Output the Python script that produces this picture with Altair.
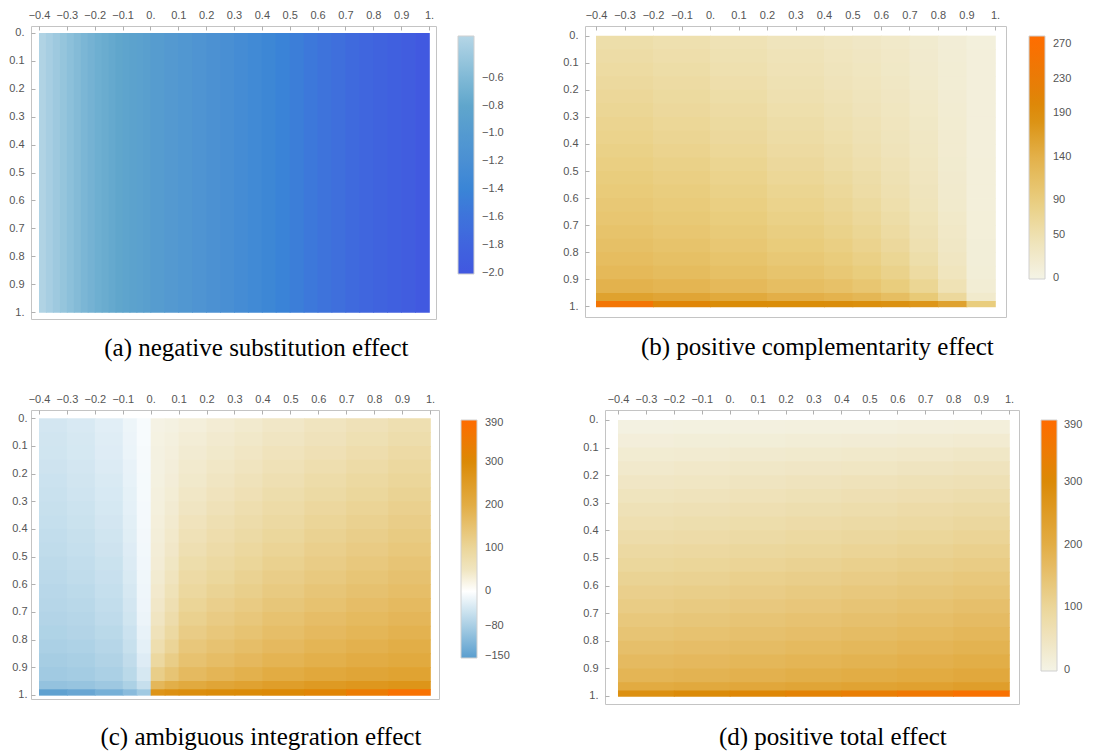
import altair as alt
import pandas as pd

# ---------------- axis ticks ----------------
x_ticks = [-0.4, -0.3, -0.2, -0.1, 0.0, 0.1, 0.2, 0.3, 0.4, 0.5, 0.6, 0.7, 0.8, 0.9, 1.0]
y_ticks = [0.0, 0.1, 0.2, 0.3, 0.4, 0.5, 0.6, 0.7, 0.8, 0.9, 1.0]

# shared row edges for the fine grids (y = 0 at the top)
fine_y_edges = [0.0, 0.05, 0.1, 0.15, 0.2, 0.25, 0.3, 0.35, 0.4, 0.45, 0.5, 0.55, 0.6, 0.65,
                0.7, 0.75, 0.8, 0.85, 0.9, 0.95, 0.98, 1.0]

# ---------------- (a) negative substitution effect ----------------
a_x_edges = [-0.4, -0.375, -0.35, -0.325, -0.3, -0.275, -0.25, -0.225, -0.2, -0.175, -0.15, -0.125,
             -0.1, -0.075, -0.05, -0.025, 0.0, 0.05, 0.1, 0.15, 0.2, 0.25, 0.3, 0.35, 0.4, 0.45,
             0.5, 0.55, 0.6, 0.65, 0.7, 0.75, 0.8, 0.85, 0.9, 0.95, 1.0]
a_y_edges = [0.0, 1.0]
a_values = [[-0.33, -0.38, -0.43, -0.48, -0.53, -0.58, -0.63, -0.67, -0.71, -0.74, -0.77, -0.80,
             -0.83, -0.86, -0.89, -0.92, -0.96, -1.01, -1.06, -1.11, -1.16, -1.21, -1.26, -1.31,
             -1.36, -1.42, -1.48, -1.54, -1.60, -1.66, -1.72, -1.77, -1.82, -1.87, -1.92, -1.97]]
a_color_domain = [-2.01, -1.8, -1.6, -1.4, -1.2, -1.0, -0.8, -0.6, -0.3]
a_color_range = ["#4157e0", "#4064de", "#3e73db", "#3a85d6", "#4a8fd3", "#549ad0", "#60a6cc",
                 "#80b9d6", "#b5d6e6"]
a_legend_values = [-2.0, -1.8, -1.6, -1.4, -1.2, -1.0, -0.8, -0.6]

# ---------------- (b) positive complementarity effect ----------------
b_x_edges = [-0.4, -0.2, 0.0, 0.2, 0.4, 0.5, 0.6, 0.7, 0.8, 0.9, 1.0]
b_y_edges = fine_y_edges
b_values = [
    [55, 51, 45, 39, 34, 30, 26, 21, 14, 8],
    [58, 54, 48, 42, 37, 33, 28, 22, 15, 9],
    [61, 57, 51, 44, 39, 35, 29, 23, 16, 9],
    [64, 60, 54, 47, 41, 37, 31, 24, 16, 9],
    [68, 63, 57, 50, 44, 39, 33, 26, 17, 9],
    [71, 66, 60, 53, 47, 41, 35, 27, 18, 9],
    [75, 70, 63, 56, 50, 44, 37, 29, 19, 9],
    [78, 73, 66, 59, 53, 46, 39, 31, 20, 9],
    [82, 77, 70, 62, 56, 49, 41, 32, 20, 9],
    [86, 81, 74, 66, 59, 52, 44, 34, 21, 10],
    [90, 85, 78, 70, 63, 56, 47, 36, 22, 10],
    [94, 89, 82, 74, 67, 59, 50, 38, 23, 10],
    [98, 93, 86, 78, 71, 63, 53, 40, 24, 10],
    [102, 97, 90, 82, 75, 67, 57, 43, 26, 11],
    [107, 102, 95, 87, 80, 72, 61, 46, 28, 11],
    [112, 107, 100, 92, 85, 77, 66, 50, 30, 12],
    [118, 113, 106, 98, 91, 83, 72, 55, 33, 12],
    [125, 120, 113, 105, 98, 90, 79, 61, 37, 13],
    [136, 131, 124, 116, 110, 102, 90, 72, 45, 16],
    [160, 155, 149, 141, 135, 128, 116, 96, 66, 24],
    [250, 205, 191, 189, 188, 186, 183, 176, 160, 90],
]
b_color_domain = [-1, 50, 90, 140, 190, 230, 279]
b_color_range = ["#f4f3e6", "#eee0b0", "#e9cd7d", "#e3b049", "#da8c08", "#ea7b06", "#ff6d00"]
b_legend_values = [0, 50, 90, 140, 190, 230, 270]

# ---------------- (c) ambiguous integration effect ----------------
c_x_edges = [-0.4, -0.3, -0.2, -0.1, -0.05, 0.0, 0.05, 0.1, 0.2, 0.3, 0.4, 0.55, 0.7, 0.85, 1.0]
c_y_edges = fine_y_edges
c_values = [
    [-41, -36, -28, -17, -7, 3, 7, 15, 24, 32, 41, 51, 61, 70],
    [-43, -38, -30, -18, -7, 5, 11, 21, 30, 38, 47, 57, 67, 76],
    [-44, -39, -31, -19, -8, 6, 13, 26, 36, 45, 55, 65, 75, 85],
    [-46, -41, -33, -21, -8, 7, 16, 31, 42, 51, 62, 73, 83, 93],
    [-48, -43, -35, -22, -9, 8, 19, 36, 48, 58, 69, 80, 91, 100],
    [-50, -45, -37, -24, -9, 10, 22, 42, 54, 65, 76, 87, 98, 107],
    [-52, -47, -39, -25, -10, 12, 26, 48, 61, 72, 83, 95, 105, 114],
    [-54, -49, -41, -27, -10, 14, 30, 55, 68, 79, 90, 102, 112, 121],
    [-57, -52, -44, -29, -11, 17, 35, 62, 75, 86, 98, 109, 119, 128],
    [-59, -54, -46, -31, -12, 20, 40, 69, 82, 93, 105, 116, 126, 135],
    [-61, -57, -49, -33, -13, 23, 46, 77, 90, 101, 113, 124, 134, 143],
    [-63, -59, -51, -35, -14, 28, 53, 85, 98, 109, 121, 132, 142, 151],
    [-66, -62, -54, -38, -15, 33, 60, 94, 107, 118, 130, 141, 151, 159],
    [-68, -65, -57, -41, -16, 40, 68, 103, 116, 127, 139, 150, 160, 168],
    [-71, -68, -60, -44, -18, 48, 78, 113, 126, 137, 149, 160, 169, 177],
    [-74, -71, -64, -48, -21, 58, 90, 124, 136, 147, 159, 170, 179, 187],
    [-78, -75, -68, -52, -25, 72, 104, 136, 148, 159, 170, 181, 190, 198],
    [-83, -80, -73, -58, -31, 92, 122, 150, 161, 172, 183, 193, 202, 210],
    [-88, -85, -78, -64, -38, 120, 145, 168, 180, 191, 203, 214, 222, 230],
    [-100, -97, -90, -77, -53, 175, 195, 210, 222, 232, 243, 254, 262, 270],
    [-150, -142, -128, -110, -88, 272, 282, 290, 295, 298, 303, 315, 345, 380],
]
c_color_domain = [-155, -80, 0, 0.01, 100, 200, 300, 398]
c_color_range = ["#5a9ecf", "#a9cfe4", "#ffffff", "#f5f3e6", "#ebd69a", "#e2ad45", "#db8a06", "#ff6b00"]
c_legend_values = [-150, -80, 0, 100, 200, 300, 390]

# ---------------- (d) positive total effect ----------------
d_x_edges = [-0.4, -0.2, 0.0, 0.2, 0.4, 0.6, 0.8, 1.0]
d_y_edges = fine_y_edges
d_values = [
    [6, 7, 8, 9, 10, 12, 13],
    [15, 17, 18, 20, 22, 24, 27],
    [25, 27, 30, 32, 35, 38, 41],
    [34, 37, 40, 43, 46, 50, 53],
    [43, 46, 50, 53, 57, 61, 64],
    [52, 55, 59, 63, 67, 71, 75],
    [61, 64, 68, 72, 76, 81, 85],
    [70, 73, 77, 81, 86, 90, 95],
    [79, 82, 86, 91, 95, 100, 105],
    [89, 92, 96, 100, 105, 110, 115],
    [98, 101, 105, 110, 115, 120, 125],
    [107, 110, 115, 119, 124, 130, 135],
    [116, 120, 124, 129, 134, 139, 145],
    [125, 129, 133, 138, 143, 149, 155],
    [135, 139, 143, 148, 153, 159, 165],
    [145, 149, 153, 158, 163, 169, 175],
    [156, 160, 164, 169, 174, 180, 186],
    [168, 172, 176, 181, 186, 192, 198],
    [181, 185, 190, 195, 200, 206, 213],
    [206, 211, 216, 222, 228, 234, 242],
    [284, 296, 308, 322, 338, 356, 380],
]
d_color_domain = [-1, 100, 200, 300, 398]
d_color_range = ["#f4f3e6", "#ebd69a", "#e2ad45", "#db8a06", "#ff6b00"]
d_legend_values = [0, 100, 200, 300, 390]

LABEL_FONT = "Liberation Sans"
LABEL_COLOR = "#555555"
TICK_EXPR = "datum.value == 0 ? '0.' : datum.value == 1 ? '1.' : format(datum.value, '.1f')"


def grid_frame(xe, ye, vals):
    rows = []
    for j in range(len(ye) - 1):
        for i in range(len(xe) - 1):
            rows.append({"x0": xe[i], "x1": xe[i + 1], "y0": ye[j], "y1": ye[j + 1], "v": vals[j][i]})
    return pd.DataFrame(rows)


def panel(xe, ye, vals, cdom, crange, lvals, lfmt, caption, w, h, xdom, ydom, glen,
          ylabpad, title_off, leg_off, leg_lab_off):
    df = grid_frame(xe, ye, vals)
    cscale = alt.Scale(domain=cdom, range=crange, interpolate="rgb")
    xaxis = alt.Axis(orient="top", values=x_ticks, labelExpr=TICK_EXPR, title=None, domain=False,
                     grid=False, tickSize=4, offset=-4, tickColor="#b0b0b0", labelPadding=6,
                     labelFont=LABEL_FONT, labelFontSize=11, labelColor=LABEL_COLOR,
                     labelOverlap=False, labelFlush=False)
    yaxis = alt.Axis(orient="left", values=y_ticks, labelExpr=TICK_EXPR, title=None, domain=False,
                     grid=False, tickSize=4, offset=-4, tickColor="#b0b0b0", labelPadding=ylabpad,
                     labelFont=LABEL_FONT, labelFontSize=11, labelColor=LABEL_COLOR,
                     labelOverlap=False, labelFlush=False)
    legend = alt.Legend(type="gradient", title=" ", titleFontSize=6, titlePadding=4,
                        values=lvals, format=lfmt,
                        direction="vertical", orient="right",
                        gradientLength=glen, gradientThickness=16, offset=leg_off, padding=0,
                        labelFont=LABEL_FONT, labelFontSize=11, labelColor=LABEL_COLOR,
                        labelOffset=leg_lab_off, gradientStrokeColor="#d0d0d0",
                        gradientStrokeWidth=1, labelOverlap=False)
    return alt.Chart(df).mark_rect(x2Offset=0.8, y2Offset=0.8).encode(
        x=alt.X("x0:Q", scale=alt.Scale(domain=xdom, nice=False, zero=False), axis=xaxis),
        x2="x1:Q",
        y=alt.Y("y0:Q", scale=alt.Scale(domain=ydom, nice=False, zero=False, reverse=True), axis=yaxis),
        y2="y1:Q",
        color=alt.Color("v:Q", scale=cscale, legend=legend),
    ).properties(
        width=w, height=h,
        title=alt.TitleParams(caption, orient="bottom", anchor="middle", frame="bounds",
                              font="Liberation Serif", fontSize=25, fontWeight="normal",
                              color="#000000", offset=title_off),
    )


pa = panel(a_x_edges, a_y_edges, a_values, a_color_domain, a_color_range, a_legend_values, ".1f",
           "(a)  negative substitution effect", 405, 293, [-0.4287, 1.0251], [-0.025, 1.025], 238,
           7, 17, 22, 8)
pb = panel(b_x_edges, b_y_edges, b_values, b_color_domain, b_color_range, b_legend_values, "d",
           "(b)  positive complementarity effect", 421, 291, [-0.4386, 1.0386], [-0.0356, 1.039], 243,
           7, 18, 23, 8)
pc = panel(c_x_edges, c_y_edges, c_values, c_color_domain, c_color_range, c_legend_values, "d",
           "(c)  ambiguous integration effect", 408, 289, [-0.4286, 1.0322], [-0.03, 1.015], 238,
           4, 25, 22, 8)
pd_ = panel(d_x_edges, d_y_edges, d_values, d_color_domain, d_color_range, d_legend_values, "d",
            "(d)  positive total effect", 414, 294, [-0.4465, 1.0358], [-0.036, 1.029], 251,
            7, 21, 22, 7)

top = alt.hconcat(pa, pb, spacing=57).resolve_scale(color="independent")
bottom = alt.hconcat(pc, pd_, spacing=71).resolve_scale(color="independent")

chart = alt.vconcat(top, bottom, spacing=30).resolve_scale(
    color="independent"
).properties(padding=0).configure_view(stroke="#c4c4c4", strokeWidth=1)

chart.save("out.html", embed_options={"renderer": "svg", "actions": False})
